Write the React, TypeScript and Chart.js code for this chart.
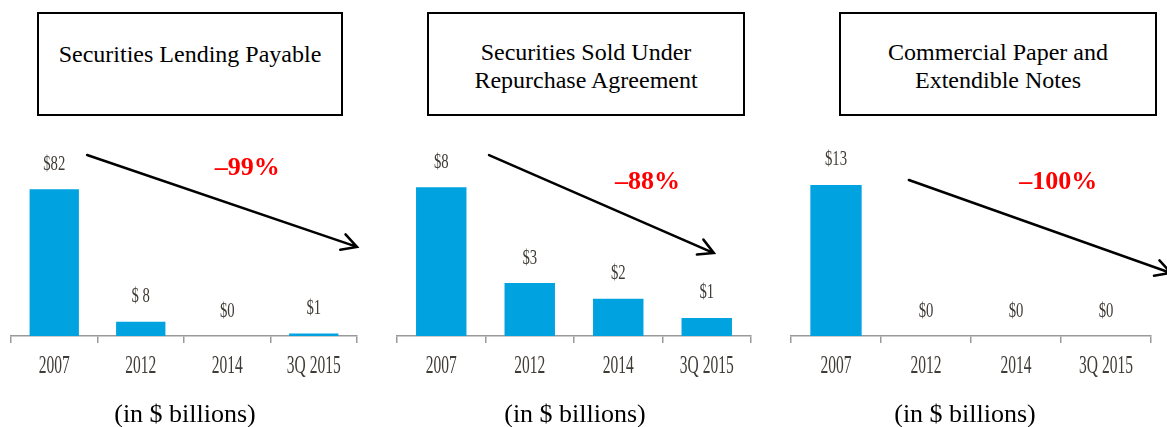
import React, { useEffect, useRef } from "react";
import { Chart, registerables } from "chart.js";

Chart.register(...registerables);

// ---- data ----
const categories = ["2007", "2012", "2014", "3Q 2015"];

const lendingValues = [82, 8, 0, 1.4];
const lendingLabels = ["$82", "$ 8", "$0", "$1"];

const repoValues = [8, 2.85, 2, 0.97];
const repoLabels = ["$8", "$3", "$2", "$1"];

const paperValues = [13, 0, 0, 0];
const paperLabels = ["$13", "$0", "$0", "$0"];

const panelTitles = [
  ["Securities Lending Payable"],
  ["Securities Sold Under", "Repurchase Agreement"],
  ["Commercial Paper and", "Extendible Notes"],
];
const changeLabels = ["\u201399%", "\u201388%", "\u2013100%"];
const unitLabel = "(in $ billions)";

const SERIF = '"Liberation Serif", "Times New Roman", serif';
const LABEL_COLOR = "#3f3b36";

type Panel = {
  values: number[];
  labels: string[];
  change: string;
  yMax: number;
  // arrow/annotation in data coordinates (category index, value)
  arrow: [number, number, number, number];
  changePos: [number, number];
  box: { left: number; width: number };
  chart: { left: number; width: number; padLeft: number; padRight: number };
  titleTop: number;
  center: number;
};

const panels: Panel[] = [
  {
    values: lendingValues,
    labels: lendingLabels,
    change: changeLabels[0],
    yMax: 104,
    arrow: [0.38, 101.2, 3.5, 49.8],
    changePos: [2.23, 93.9],
    box: { left: 37, width: 306 },
    chart: { left: 0, width: 380, padLeft: 11, padRight: 23 },
    titleTop: 26,
    center: 185,
  },
  {
    values: repoValues,
    labels: repoLabels,
    change: changeLabels[1],
    yMax: 10,
    arrow: [0.54, 9.73, 3.08, 4.46],
    changePos: [2.33, 8.28],
    box: { left: 427, width: 318 },
    chart: { left: 385, width: 385, padLeft: 12, padRight: 19 },
    titleTop: 24,
    center: 575,
  },
  {
    values: paperValues,
    labels: paperLabels,
    change: changeLabels[2],
    yMax: 16,
    arrow: [0.81, 13.42, 3.72, 5.42],
    changePos: [2.47, 13.25],
    box: { left: 839, width: 318 },
    chart: { left: 775, width: 392, padLeft: 16, padRight: 16 },
    titleTop: 24,
    center: 965,
  },
];

function condensedText(
  ctx: CanvasRenderingContext2D,
  text: string,
  x: number,
  y: number,
  size: number,
  squeeze: number
) {
  ctx.save();
  ctx.translate(x, y);
  ctx.scale(squeeze, 1);
  ctx.font = `${size}px ${SERIF}`;
  ctx.fillText(text, 0, 0);
  ctx.restore();
}

function BarPanel({ panel }: { panel: Panel }) {
  const ref = useRef<HTMLCanvasElement | null>(null);

  useEffect(() => {
    if (!ref.current) return;
    const annot = {
      id: "annot",
      afterDatasetsDraw(chart: any) {
        const ctx = chart.ctx as CanvasRenderingContext2D;
        const meta = chart.getDatasetMeta(0);
        const xs = chart.scales.x;
        const ys = chart.scales.y;
        ctx.save();
        ctx.fillStyle = LABEL_COLOR;
        ctx.textAlign = "center";
        ctx.textBaseline = "middle";
        // value labels
        meta.data.forEach((bar: any, i: number) => {
          condensedText(ctx, panel.labels[i], bar.x, bar.y - 25, 21, 0.7);
        });
        // category labels, at the x scale's tick positions
        xs.ticks.forEach((t: any, i: number) => {
          condensedText(
            ctx,
            String(xs.getLabelForValue(t.value)),
            xs.getPixelForTick(i),
            chart.chartArea.bottom + 30,
            25,
            0.62
          );
        });
        // arrow
        const [a0, a1, a2, a3] = panel.arrow;
        const x1 = xs.getPixelForValue(a0);
        const y1 = ys.getPixelForValue(a1);
        const x2 = xs.getPixelForValue(a2);
        const y2 = ys.getPixelForValue(a3);
        ctx.strokeStyle = "#000";
        ctx.lineWidth = 2.5;
        ctx.lineCap = "round";
        ctx.beginPath();
        ctx.moveTo(x1, y1);
        ctx.lineTo(x2, y2);
        const ang = Math.atan2(y2 - y1, x2 - x1);
        const hl = 17;
        const spread = 0.5;
        ctx.moveTo(x2 - hl * Math.cos(ang - spread), y2 - hl * Math.sin(ang - spread));
        ctx.lineTo(x2, y2);
        ctx.lineTo(x2 - hl * Math.cos(ang + spread), y2 - hl * Math.sin(ang + spread));
        ctx.stroke();
        // change label
        ctx.fillStyle = "#ff0000";
        ctx.font = `bold 26px ${SERIF}`;
        ctx.fillText(
          panel.change,
          xs.getPixelForValue(panel.changePos[0]),
          ys.getPixelForValue(panel.changePos[1])
        );
        ctx.restore();
      },
    };

    const chart = new Chart(ref.current, {
      type: "bar",
      data: {
        labels: categories,
        datasets: [
          {
            data: panel.values,
            backgroundColor: "#00a3e0",
            borderWidth: 0,
            categoryPercentage: 1,
            barPercentage: 0.57,
          },
        ],
      },
      options: {
        animation: false,
        responsive: true,
        maintainAspectRatio: false,
        layout: {
          padding: {
            left: panel.chart.padLeft,
            right: panel.chart.padRight,
            top: 30,
            bottom: 57,
          },
        },
        plugins: {
          legend: { display: false },
          tooltip: { enabled: false },
          title: { display: false },
        },
        scales: {
          x: {
            grid: {
              offset: true,
              drawOnChartArea: false,
              drawTicks: true,
              tickLength: 7,
              color: "#9a9a9a",
              lineWidth: 1.5,
            },
            border: { display: true, color: "#9a9a9a", width: 1.5 },
            ticks: { display: false },
          },
          y: {
            display: false,
            min: 0,
            max: panel.yMax,
          },
        },
      },
      plugins: [annot],
    });
    return () => chart.destroy();
  }, [panel]);

  return (
    <div
      style={{
        position: "absolute",
        left: panel.chart.left,
        top: 120,
        width: panel.chart.width,
        height: 280,
      }}
    >
      <canvas ref={ref} />
    </div>
  );
}

export default function App() {
  return (
    <div
      style={{
        position: "fixed",
        left: 0,
        top: 0,
        width: 1167,
        height: 427,
        overflow: "hidden",
        background: "#fff",
        fontFamily: SERIF,
        color: "#000",
      }}
    >
      {panels.map((p, i) => (
        <div
          key={"box" + i}
          style={{
            position: "absolute",
            left: p.box.left,
            top: 12,
            width: p.box.width,
            height: 104,
            boxSizing: "border-box",
            border: "2px solid #000",
            paddingTop: p.titleTop,
            textAlign: "center",
            fontSize: 24,
            lineHeight: "28px",
          }}
        >
          {panelTitles[i].map((line, j) => (
            <div key={j}>{line}</div>
          ))}
        </div>
      ))}
      {panels.map((p, i) => (
        <BarPanel key={"chart" + i} panel={p} />
      ))}
      {panels.map((p, i) => (
        <div
          key={"unit" + i}
          style={{
            position: "absolute",
            left: p.center - 120,
            width: 240,
            top: 399,
            textAlign: "center",
            fontSize: 26,
            lineHeight: "30px",
          }}
        >
          {unitLabel}
        </div>
      ))}
    </div>
  );
}
